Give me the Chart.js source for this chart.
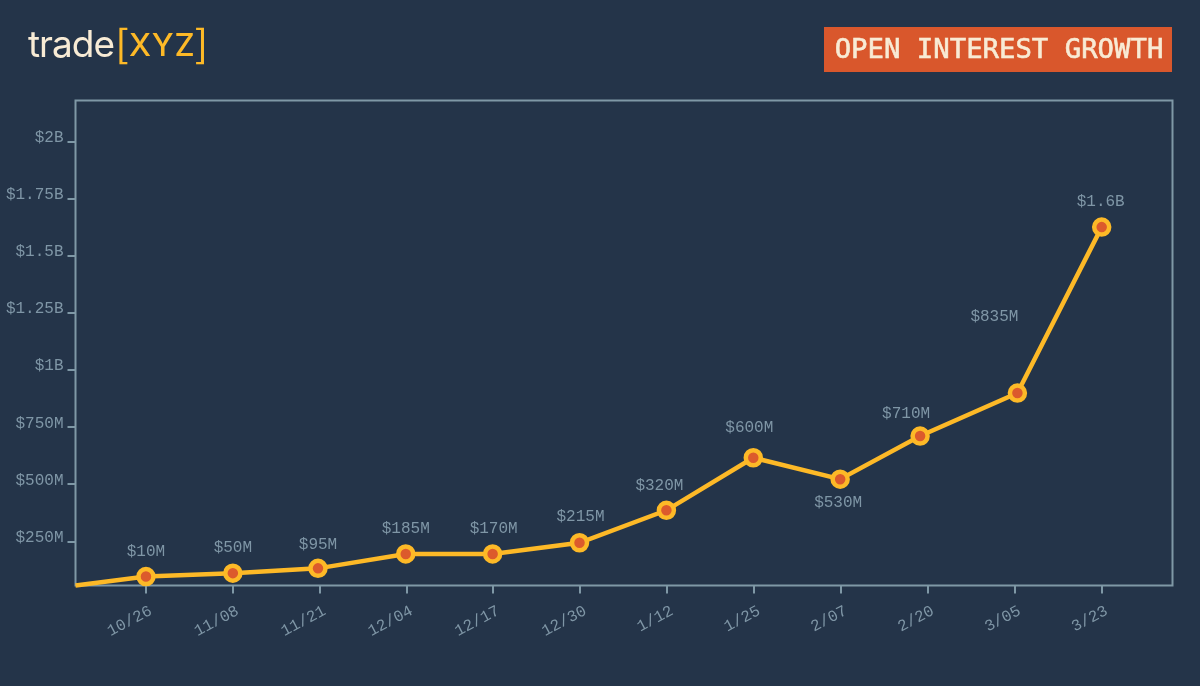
<!DOCTYPE html>
<html><head><meta charset="utf-8">
<style>
html,body{margin:0;padding:0;background:#243449;width:1200px;height:686px;overflow:hidden}
#wrap{position:relative;width:1200px;height:686px}
canvas{position:absolute;left:0;top:0}
.logo{position:absolute;left:28px;top:20px;font:400 37px/48px Inter,sans-serif;color:#F8EBD5;letter-spacing:-1px;white-space:nowrap}
.logo span{position:absolute;top:0;color:#FDB927;letter-spacing:0}
.brk{font-size:41px;font-weight:300;line-height:48px;transform:scaleX(1.15);transform-origin:left center}
.badge{position:absolute;left:825px;top:27px;width:348px;height:45px;background:transparent;color:#F8EBD5;font:400 27.3px/44px "DejaVu Sans Mono",monospace;-webkit-text-stroke:0.6px #F8EBD5;text-align:center;white-space:nowrap}
.badgebg{position:absolute;left:824px;top:27px;width:348px;height:45px;background:#D9572C}
</style></head><body><div id="wrap">
<canvas id="c" width="1200" height="686"></canvas>
<div class="logo">trade<span class="brk" style="left:86px;">[</span><span style="left:101px;font-size:31.5px;font-weight:500;letter-spacing:0.8px;line-height:49px">XYZ</span><span class="brk" style="left:165px;">]</span></div>
<div class="badgebg"></div><div class="badge">OPEN INTEREST GROWTH</div>
</div>
<script src="https://cdn.jsdelivr.net/npm/chart.js@4/dist/chart.umd.min.js"></script>
<script>
const dateLabels = ["10/26","11/08","11/21","12/04","12/17","12/30","1/12","1/25","2/07","2/20","3/05","3/23"];
const xValues = [-0.811,0,1,1.98,2.99,3.99,4.99,5.99,6.99,7.99,8.91,10.03,11];
const yValues = [58,97,112,133,196,196,245,387,617,523,712,900,1626];
const valueLabels = ["","$10M","$50M","$95M","$185M","$170M","$215M","$320M","$600M","$530M","$710M","$835M","$1.6B"];
const yTickValues = [250,500,750,1000,1250,1500,1750,2000];
const yTickLabels = ["$250M","$500M","$750M","$1B","$1.25B","$1.5B","$1.75B","$2B"];

const AXIS = '#7F98A6', TEXT = '#7F96A6', MONO = '"Liberation Mono", monospace';
const labelOffsets = [[0,0],[0,-25],[0,-25],[0,-24],[0,-25],[1,-25],[1,-26],[-7,-25],[-4,-30],[-2,24],[-14,-22],[-23,-76],[-1,-25]];

const frame = { id:'frame', beforeDatasetsDraw(ch){
  const a = ch.chartArea, c = ch.ctx;
  c.save(); c.strokeStyle = AXIS; c.lineWidth = 2;
  c.strokeRect(a.left, a.top, a.right-a.left, a.bottom-a.top); c.restore();
}};
const valueText = { id:'valueText', afterDatasetsDraw(ch){
  const c = ch.ctx, pts = ch.getDatasetMeta(0).data;
  c.save(); c.fillStyle = TEXT; c.font = '16px '+MONO; c.textAlign='center'; c.textBaseline='middle';
  pts.forEach((p,i)=>{ if(valueLabels[i]) c.fillText(valueLabels[i], p.x+labelOffsets[i][0], p.y+labelOffsets[i][1]); });
  c.restore();
}};

new Chart(document.getElementById('c'),{
  type:'line',
  data:{datasets:[{
    data:xValues.map((x,i)=>({x,y:yValues[i]})),
    borderColor:'#FDB927',borderWidth:4.5,tension:0,clip:false,
    pointBackgroundColor:'#DC5A2C',pointBorderColor:'#FDB927',pointBorderWidth:4.5,
    pointRadius:xValues.map((x,i)=>i===0?0:7.5),pointHoverRadius:7.5
  }]},
  options:{
    responsive:false,animation:false,devicePixelRatio:1,
    layout:{padding:{top:100.5,right:27.5,left:0,bottom:0}},
    plugins:{legend:{display:false},tooltip:{enabled:false}},
    scales:{
      x:{type:'linear',min:-0.811,max:11.815,
        afterFit(s){s.height=100.5;},
        afterBuildTicks(s){s.ticks=dateLabels.map((_,i)=>({value:i}));},
        grid:{display:true,drawOnChartArea:false,color:AXIS,lineWidth:2,tickLength:8},
        border:{display:false},
        ticks:{autoSkip:false,minRotation:28,maxRotation:28,padding:8,labelOffset:5,color:TEXT,font:{family:MONO,size:16},
          callback(v){return dateLabels[v];}}
      },
      y:{type:'linear',min:58,max:2180,
        afterFit(s){s.width=75.5;},
        afterBuildTicks(s){s.ticks=yTickValues.map(v=>({value:v}));},
        grid:{display:true,drawOnChartArea:false,color:AXIS,lineWidth:2,tickLength:8},
        border:{display:false},
        ticks:{padding:4,labelOffset:-4,color:TEXT,font:{family:MONO,size:16},
          callback(v){return yTickLabels[yTickValues.indexOf(v)];}}
      }
    }
  },
  plugins:[frame,valueText]
});
</script></body></html>
